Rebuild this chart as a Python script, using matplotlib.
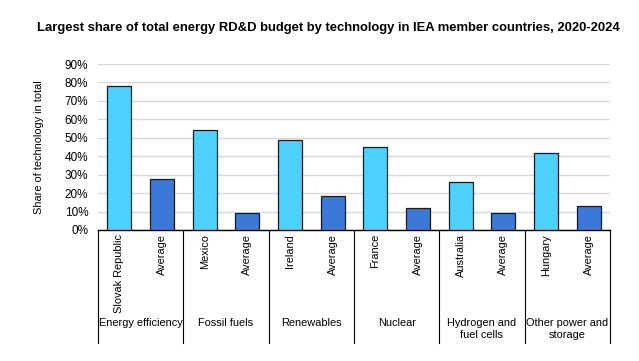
#!/usr/bin/env python3
"""Largest share of total energy RD&D budget by technology, IEA members."""

import matplotlib.pyplot as plt
import numpy as np

plt.rcParams["font.family"] = ["Liberation Sans", "DejaVu Sans"]

groups = ["Energy efficiency", "Fossil fuels", "Renewables", "Nuclear",
          "Hydrogen and\nfuel cells", "Other power and\nstorage"]
countries = ["Slovak Republic", "Mexico", "Ireland", "France", "Australia", "Hungary"]
top_share = [78.3, 54.4, 48.6, 45.0, 26.2, 41.9]
avg_share = [27.7, 9.0, 18.6, 12.1, 9.4, 12.8]

light = "#4dd2ff"
dark = "#3c78d8"

fig = plt.figure(figsize=(6.39, 3.61), dpi=100)
ax = fig.add_axes([98 / 639, 1 - 230 / 361, 512 / 639, 166 / 361])

x = np.arange(len(groups))
ax.bar(2 * x, top_share, 0.57, color=light, edgecolor="#1a1a1a", linewidth=0.9, zorder=3)
ax.bar(2 * x + 1, avg_share, 0.57, color=dark, edgecolor="#1a1a1a", linewidth=0.9, zorder=3)

ax.set_xlim(-0.5, 2 * len(groups) - 0.5)
ax.set_ylim(0, 90)
ax.set_yticks(np.arange(0, 91, 10))
ax.set_yticklabels([f"{v}%" for v in range(0, 91, 10)], fontsize=8.5)
ax.yaxis.grid(True, color="#d9d9d9", linewidth=1)
ax.set_axisbelow(True)
ax.tick_params(axis="y", length=0, pad=7)
for s in ["top", "right", "left"]:
    ax.spines[s].set_visible(False)
ax.spines["bottom"].set_color("black")
ax.spines["bottom"].set_linewidth(1)

ticklabels = []
for c in countries:
    ticklabels += [c, "Average"]
ax.set_xticks(np.arange(2 * len(groups)))
ax.set_xticklabels(ticklabels, rotation=90, fontsize=7.9, va="top")
ax.tick_params(axis="x", length=0, pad=3)

# group separators and group labels below the axis
for i in range(len(groups) + 1):
    ax.plot([2 * i - 0.5, 2 * i - 0.5], [0, -61], color="black", linewidth=0.8,
            clip_on=False)
for i, g in enumerate(groups):
    ax.text(2 * i + 0.5, -47.5, g, ha="center", va="top", fontsize=7.9,
            linespacing=1.3)

ax.set_ylabel("Share of technology in total", fontsize=7.9, labelpad=15)

fig.text(328 / 639, 1 - 28 / 361,
         "Largest share of total energy RD&D budget by technology in IEA member countries, 2020-2024",
         ha="center", va="center", fontsize=9.4, fontweight="bold")

fig.savefig("out.png", dpi=100)
